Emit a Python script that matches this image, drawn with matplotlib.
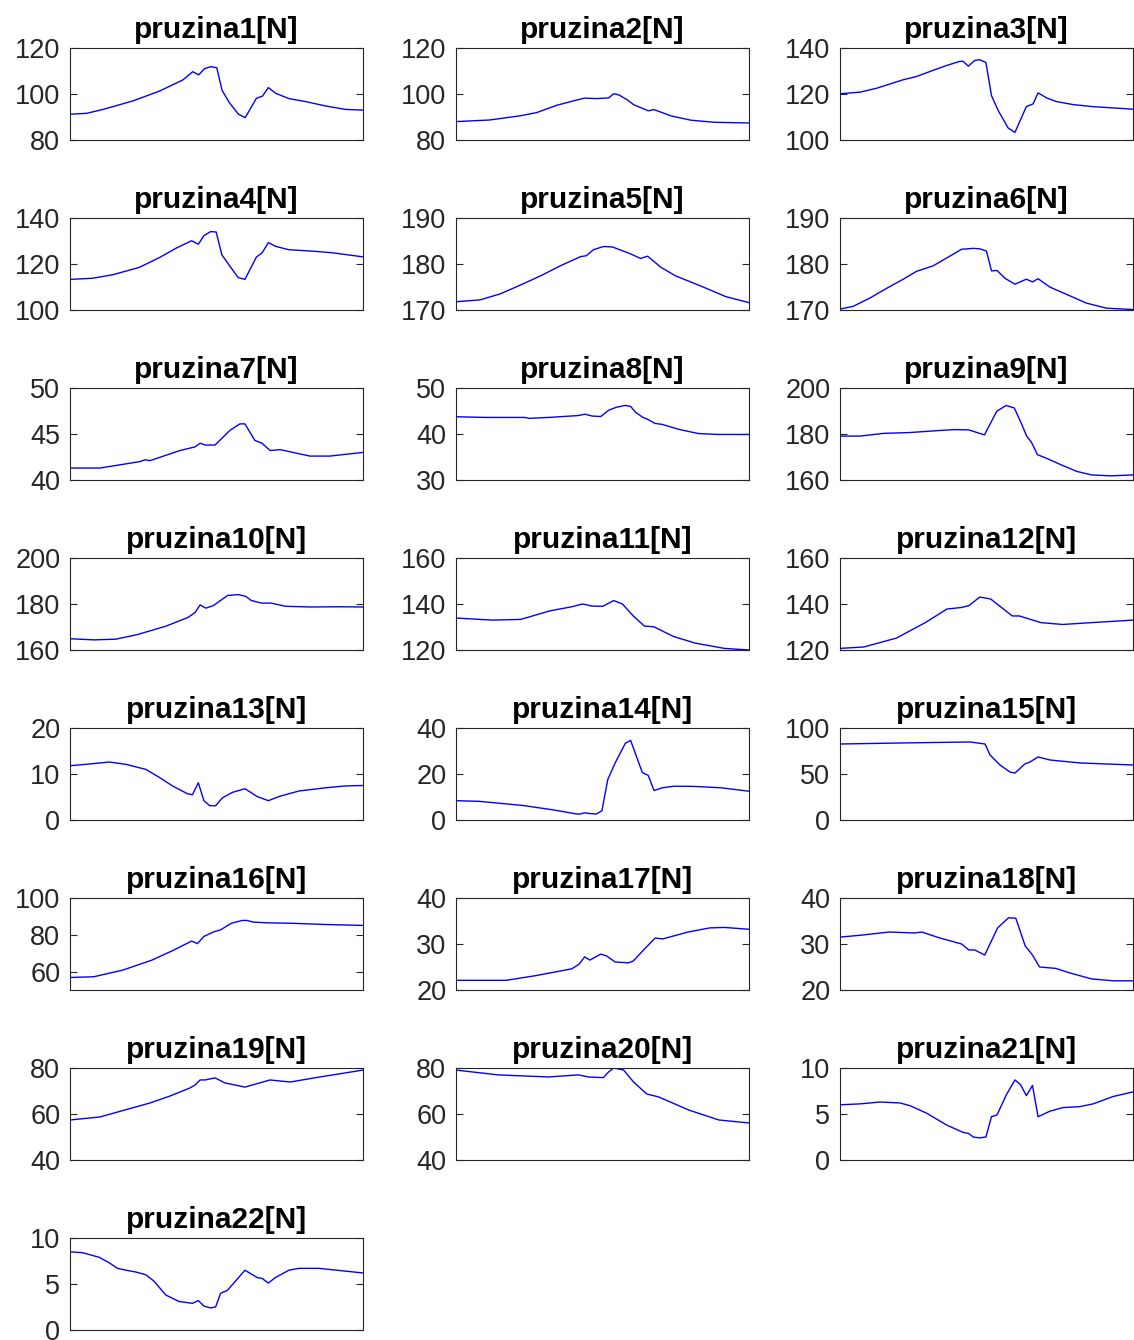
import matplotlib
matplotlib.use("Agg")
import matplotlib.pyplot as plt

plt.rcParams['font.family'] = ['Liberation Sans', 'DejaVu Sans']

# ---- spring force histories (x: percent of motion cycle, y: force in N) ----
p1_x = [0, 5.7, 11.3, 21.5, 30.6, 38.5, 41.9, 43.9, 45.9, 48.1, 50.1, 51.9, 54.4, 57.5, 59.8, 63.6, 65.7, 67.7, 70.2, 74.7, 80.4, 87.2, 94, 100]
p1_y = [91.2, 91.6, 93.3, 97, 101.3, 106.1, 109.7, 108.3, 111, 111.9, 111.4, 101.6, 96.2, 91.2, 89.7, 98.1, 99.1, 102.8, 100.3, 98, 96.7, 94.8, 93.3, 93]

p2_x = [0, 11.5, 21.8, 27.5, 34.4, 40.1, 43.8, 48.1, 52.1, 53.8, 55.6, 58.4, 60.7, 63.6, 65.6, 67.6, 73.3, 80.2, 88.2, 100]
p2_y = [88, 88.7, 90.5, 91.9, 95.1, 97, 98.2, 98, 98.3, 100.1, 99.6, 97.5, 95.3, 93.8, 92.7, 93.2, 90.5, 88.6, 87.7, 87.4]

p3_x = [0, 6.8, 12.5, 21.6, 26.1, 31.8, 36.4, 40.9, 42, 43.8, 46, 47.7, 49.8, 51.7, 54, 57.4, 59.7, 63.6, 65.9, 67.6, 70.5, 73.9, 79.5, 86.4, 100]
p3_y = [120.1, 120.8, 122.5, 126.2, 127.6, 130.3, 132.4, 134.2, 134.2, 132.1, 134.6, 134.9, 133.7, 119.3, 112.8, 105.2, 103.3, 114.5, 115.7, 120.5, 118.3, 116.7, 115.4, 114.5, 113.4]

p4_x = [0, 7.7, 14.5, 23.6, 30.4, 36.1, 41.5, 43.8, 45.7, 48, 49.9, 51.8, 54.2, 57.4, 59.7, 63.6, 65.6, 67.7, 70.1, 74.7, 82.6, 89.4, 100]
p4_y = [113.3, 113.8, 115.3, 118.5, 122.7, 126.8, 130.1, 128.6, 132.3, 134.1, 133.9, 124.1, 119.7, 114.1, 113.3, 123, 124.9, 129.3, 127.7, 126.2, 125.6, 124.9, 123.1]

p5_x = [0, 8.2, 15.1, 21.9, 28.8, 35.6, 42.5, 44.5, 46.9, 50.3, 53.4, 59.6, 63, 65.4, 69.9, 75, 83.6, 92.1, 100]
p5_y = [171.8, 172.2, 173.5, 175.4, 177.4, 179.6, 181.6, 181.8, 183.1, 183.8, 183.7, 182.2, 181.2, 181.7, 179.3, 177.4, 175.2, 172.9, 171.6]

p6_x = [0, 4.5, 10.2, 15.9, 21.6, 26.1, 31.8, 36.4, 41.5, 45.5, 47.7, 50, 51.7, 53.6, 56.3, 59.7, 63.6, 65.7, 67.6, 71.6, 77.3, 84.1, 90.9, 100]
p6_y = [170.2, 170.8, 172.6, 174.7, 176.7, 178.4, 179.6, 181.3, 183.2, 183.4, 183.3, 182.8, 178.5, 178.6, 176.9, 175.6, 176.7, 176.1, 176.8, 175, 173.4, 171.5, 170.4, 170.1]

p7_x = [0, 10.2, 23.9, 25.6, 27.3, 37.5, 42.7, 44.4, 46.1, 49.5, 54.6, 58, 59.7, 63.1, 65.5, 68.3, 71.7, 81.9, 88.7, 100]
p7_y = [41.3, 41.3, 42, 42.2, 42.1, 43.2, 43.6, 44, 43.8, 43.8, 45.4, 46.1, 46.1, 44.3, 44, 43.2, 43.3, 42.6, 42.6, 43]

p8_x = [0, 10.2, 23.4, 25, 31.6, 41.5, 44, 46.5, 49.4, 52.2, 54.7, 57.7, 59.6, 61.3, 63.8, 65.4, 67.9, 70.3, 76.1, 82.7, 89.3, 100]
p8_y = [43.75, 43.6, 43.6, 43.4, 43.6, 44.0, 44.3, 43.9, 43.8, 45.2, 45.8, 46.2, 46, 44.7, 43.6, 43.2, 42.3, 42.1, 41, 40.1, 39.9, 39.9]

p9_x = [0, 6.9, 15.1, 23.4, 34.9, 39, 43.9, 49.3, 53.5, 56.7, 59.5, 62, 63.7, 65.3, 67.4, 70.2, 76, 80.9, 85.9, 92.4, 100]
p9_y = [179.1, 179.1, 180.3, 180.6, 181.6, 181.9, 181.8, 179.6, 189.9, 192.4, 191.3, 184.3, 179.1, 176.5, 171, 169.6, 166.3, 163.7, 162.2, 161.8, 162.2]

p10_x = [0, 8.1, 15.6, 23, 32.8, 40.2, 42.7, 44.4, 46.4, 48.9, 53.8, 57.5, 60, 61.9, 65.4, 68.6, 73.6, 82.2, 92.1, 100]
p10_y = [164.9, 164.4, 164.7, 166.7, 170.4, 174.1, 176.3, 179.6, 178.2, 179.3, 183.7, 184.1, 183.3, 181.5, 180.4, 180.4, 179, 178.7, 178.8, 178.7]

p11_x = [0, 12.2, 22.1, 32, 39.5, 43.2, 46.4, 50.1, 53.8, 56.8, 60.5, 64.3, 67.5, 74.2, 81.6, 91.6, 100]
p11_y = [133.9, 133, 133.3, 137, 138.8, 140, 139.1, 139, 141.5, 140, 134.8, 130.4, 130.1, 125.9, 123, 120.7, 120]

p12_x = [0, 8.1, 19.3, 29.1, 36.5, 41.5, 44, 47.7, 51.4, 55.1, 58.8, 61.2, 68.6, 76, 85.9, 100]
p12_y = [120.7, 121.3, 125.2, 131.9, 137.8, 138.5, 139.3, 143, 142.2, 138.5, 134.8, 134.8, 131.9, 131.1, 131.9, 133]

p13_x = [0, 5.4, 13.4, 19.1, 25.9, 30.4, 35, 40.1, 41.8, 43.8, 45.7, 47.7, 49.7, 52, 55.4, 59.7, 63.9, 67.7, 71.3, 78.1, 87.2, 94, 100]
p13_y = [11.8, 12.1, 12.6, 12.1, 11, 9.3, 7.4, 5.7, 5.5, 8.1, 4.2, 3.1, 3.1, 4.8, 6, 6.8, 5.1, 4.2, 5.1, 6.3, 7, 7.4, 7.5]

p14_x = [0, 8, 22.9, 33.2, 41.2, 42.4, 43.8, 45.8, 47.9, 49.8, 51.8, 54.4, 57.8, 59.6, 61.6, 63.6, 65.6, 67.6, 70.4, 74.5, 81.3, 90.5, 100]
p14_y = [8.4, 8.1, 6.3, 4.4, 2.6, 2.6, 3.1, 2.8, 2.6, 4, 17.6, 25, 33.4, 34.6, 27.6, 20.6, 19.4, 12.8, 14, 14.7, 14.6, 14, 12.5]

p15_x = [0, 20.5, 44.4, 49.5, 51.2, 54.6, 58, 59.7, 63.1, 64.8, 67.6, 71.7, 81.9, 100]
p15_y = [82.6, 83.7, 84.8, 82.6, 70.7, 59.8, 52.2, 51, 60.9, 63, 68.5, 65.2, 62, 59.8]

p16_x = [0, 8.1, 18, 27.9, 35.3, 41.5, 43.5, 45.7, 48.9, 51.4, 55.1, 58.8, 60.5, 62.5, 67.4, 74.8, 87.2, 100]
p16_y = [56.8, 57.2, 60.8, 66.2, 71.6, 76.6, 75.2, 79.1, 81.5, 82.7, 86.3, 87.8, 87.8, 86.9, 86.5, 86.3, 85.6, 85.1]

p17_x = [0, 17.1, 27, 39.5, 42, 43.9, 45.7, 49.4, 51.4, 54.3, 58.8, 60.5, 64.3, 68, 70.5, 79.2, 86.6, 91.6, 100]
p17_y = [22.1, 22.1, 23.1, 24.6, 25.6, 27.2, 26.5, 27.8, 27.4, 26.1, 25.9, 26.3, 28.9, 31.3, 31.1, 32.6, 33.5, 33.6, 33.2]

p18_x = [0, 6.9, 16.8, 25.4, 27.9, 34.1, 41.5, 44, 46, 49.4, 53.8, 57.5, 60, 63.2, 65.7, 68.1, 73.6, 78.5, 85.9, 93.3, 100]
p18_y = [31.5, 31.9, 32.6, 32.4, 32.6, 31.3, 30, 28.7, 28.7, 27.6, 33.5, 35.7, 35.6, 29.6, 27.6, 25, 24.7, 23.7, 22.4, 22, 22]

p19_x = [0, 10.2, 27.3, 34.1, 40.9, 42.7, 44.4, 46.1, 49.5, 52.9, 59.7, 68.3, 75.1, 85.3, 100]
p19_y = [57.4, 58.7, 64.8, 67.8, 71.3, 72.6, 74.8, 74.8, 75.7, 73.5, 71.7, 74.8, 73.9, 76.1, 79.1]

p20_x = [0, 14.4, 31.5, 41.8, 45.2, 50.3, 52.1, 53.8, 57.2, 60.6, 65.1, 69.2, 79.5, 89.7, 100]
p20_y = [79.1, 77, 76.1, 77, 76.1, 75.8, 78.3, 80, 79.1, 73.9, 68.7, 67.4, 61.7, 57.4, 56.1]

p21_x = [0, 6.8, 13.6, 20.5, 23.9, 29.5, 36.4, 42, 43.8, 45.5, 47.7, 49.8, 51.7, 53.6, 56.8, 59.7, 61.6, 63.6, 65.7, 67.6, 71.6, 76.1, 81.8, 86.4, 93.2, 100]
p21_y = [6, 6.1, 6.3, 6.2, 5.9, 5.1, 3.8, 3, 2.9, 2.5, 2.4, 2.5, 4.7, 4.9, 7.1, 8.7, 8.2, 7, 8.1, 4.7, 5.3, 5.7, 5.8, 6.1, 6.9, 7.4]

p22_x = [0, 4.3, 10, 13.4, 16.2, 19.1, 22.5, 25.9, 28.7, 32.7, 37.2, 41.8, 43.8, 45.7, 48, 49.7, 51.4, 53.7, 55.9, 59.7, 63.9, 65.6, 67.7, 70.1, 74.7, 78.1, 84.9, 94, 100]
p22_y = [8.5, 8.4, 7.9, 7.3, 6.7, 6.5, 6.3, 6.0, 5.3, 3.8, 3.1, 2.9, 3.2, 2.6, 2.4, 2.5, 4, 4.3, 5.1, 6.5, 5.7, 5.6, 5.1, 5.7, 6.5, 6.7, 6.7, 6.4, 6.2]

series_x = [p1_x, p2_x, p3_x, p4_x, p5_x, p6_x, p7_x, p8_x, p9_x, p10_x, p11_x,
            p12_x, p13_x, p14_x, p15_x, p16_x, p17_x, p18_x, p19_x, p20_x, p21_x, p22_x]
series_y = [p1_y, p2_y, p3_y, p4_y, p5_y, p6_y, p7_y, p8_y, p9_y, p10_y, p11_y,
            p12_y, p13_y, p14_y, p15_y, p16_y, p17_y, p18_y, p19_y, p20_y, p21_y, p22_y]

titles = [f"pruzina{i}[N]" for i in range(1, 23)]

y_limits = [(80, 120), (80, 120), (100, 140), (100, 140), (170, 190), (170, 190),
            (40, 50), (30, 50), (160, 200), (160, 200), (120, 160), (120, 160),
            (0, 20), (0, 40), (0, 100), (50, 100), (20, 40), (20, 40),
            (40, 80), (40, 80), (0, 10), (0, 10)]
y_ticks = [[80, 100, 120], [80, 100, 120], [100, 120, 140], [100, 120, 140],
           [170, 180, 190], [170, 180, 190], [40, 45, 50], [30, 40, 50],
           [160, 180, 200], [160, 180, 200], [120, 140, 160], [120, 140, 160],
           [0, 10, 20], [0, 20, 40], [0, 50, 100], [60, 80, 100],
           [20, 30, 40], [20, 30, 40], [40, 60, 80], [40, 60, 80],
           [0, 5, 10], [0, 5, 10]]

W, H = 1134, 1340
fig = plt.figure(figsize=(W / 100, H / 100), dpi=100)

col_left = [70, 456, 840]
row_top = [48, 218, 388, 558, 728, 898, 1068, 1238]
ax_w, ax_h = 293, 92
edge = '#262626'

for k in range(22):
    r, c = divmod(k, 3)
    left = col_left[c] / W
    bottom = 1 - (row_top[r] + ax_h) / H
    ax = fig.add_axes([left, bottom, ax_w / W, ax_h / H])
    ax.plot(series_x[k], series_y[k], color=(0, 0, 1), lw=1.0)
    ax.set_xlim(0, 100)
    ax.set_ylim(*y_limits[k])
    ax.set_xticks([])
    ax.set_yticks(y_ticks[k])
    ax.tick_params(axis='y', direction='in', left=True, right=True, length=5,
                   width=0.8, color=edge, labelsize=19.5, labelcolor=edge, pad=7)
    for s in ax.spines.values():
        s.set_color(edge)
        s.set_linewidth(0.8)
    ax.set_title(titles[k], fontsize=21.5, fontweight='bold', color='black', pad=7)

fig.savefig('out.png', dpi=100)
